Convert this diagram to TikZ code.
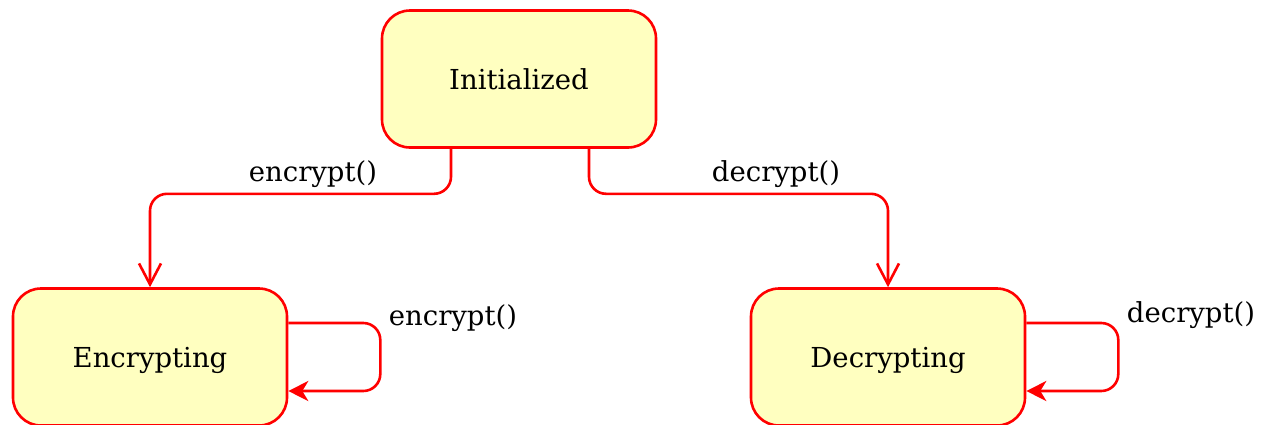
\documentclass[tikz,border=0pt]{standalone}
\usepackage{fontspec}
\setmainfont{DejaVu Serif}
\usetikzlibrary{arrows.meta}
\definecolor{stfill}{HTML}{FFFFC0}
\definecolor{stred}{HTML}{FF0000}
\tikzset{
  state/.style={draw=stred, fill=stfill, line width=2.6pt, rounded corners=28pt,
    minimum width=274pt, minimum height=137pt, inner sep=0pt,
    font=\fontsize{27.5}{33}\selectfont, text height=20pt, text depth=0pt},
  trans/.style={draw=stred, line width=2.6pt, rounded corners=17pt,
    -{Straight Barb[length=21pt,width=22pt,line width=2.6pt]}},
  selftrans/.style={draw=stred, line width=2.6pt, rounded corners=17pt,
    -{Stealth[length=20pt,width=20pt,inset=6pt]}},
  lbl/.style={font=\fontsize{27.5}{33}\selectfont, inner sep=0pt}
}
\begin{document}
\begin{tikzpicture}[x=1pt,y=-1pt]
\useasboundingbox (0,0) rectangle (1265,424);
\node[state] (init) at (519,79) {Initialized};
\node[state] (enc) at (150,357) {Encrypting};
\node[state] (dec) at (888,357) {Decrypting};
\draw[trans] ([xshift=-68pt]init.south) -- ++(0,-45pt) -| (enc.north);
\draw[trans] ([xshift=70pt]init.south) -- ++(0,-45pt) -| (dec.north);
\draw[selftrans] ([yshift=34pt]enc.east) -- ++(92pt,0pt) -- ++(0pt,-68pt) -- ([yshift=-34pt]enc.east);
\draw[selftrans] ([yshift=34pt]dec.east) -- ++(92pt,0pt) -- ++(0pt,-68pt) -- ([yshift=-34pt]dec.east);
\node[lbl] (l1) at (313,174) {encrypt()};
\node[lbl] (l2) at (776,174) {decrypt()};
\node[lbl] (l3) at (453,318) {encrypt()};
\node[lbl] (l4) at (1191,315) {decrypt()};
\end{tikzpicture}
\end{document}
